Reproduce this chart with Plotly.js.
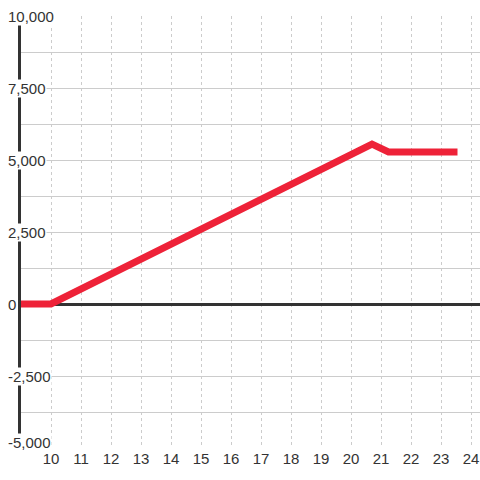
<!DOCTYPE html>
<html>
<head>
<meta charset="utf-8">
<script src="https://cdn.plot.ly/plotly-3.0.1.min.js"></script>
<style>html,body{margin:0;padding:0;background:#fff;}#chart{width:480px;height:480px;}</style>
</head>
<body>
<div id="chart"></div>
<script>
// Data
const xValues = [9, 10, 20.7, 21.25, 23.55];
const yValues = [0, 0, 5550, 5280, 5280];
const xTickVals = [10, 11, 12, 13, 14, 15, 16, 17, 18, 19, 20, 21, 22, 23, 24];
const xTickText = ['10', '11', '12', '13', '14', '15', '16', '17', '18', '19', '20', '21', '22', '23', '24'];
const yTickVals = [10000, 7500, 5000, 2500, 0, -2500, -5000];
const yTickText = ['10,000', '7,500', '5,000', '2,500', '0', '-2,500', '-5,000'];

const textColor = '#333333';
const fontFamily = '"Liberation Sans", Arial, sans-serif';
const fontSize = 15;

const trace = {
  x: xValues,
  y: yValues,
  type: 'scatter',
  mode: 'lines',
  line: {color: '#ee2238', width: 7},
  hoverinfo: 'skip'
};

const annotations = yTickVals.map((v, i) => ({
  xref: 'paper', yref: 'y',
  x: 0, y: v,
  xshift: -14,
  yshift: (i === yTickVals.length - 1) ? 6 : 0,
  xanchor: 'left', yanchor: 'middle',
  text: yTickText[i],
  showarrow: false,
  bgcolor: '#ffffff',
  borderpad: 0,
  font: {family: fontFamily, size: fontSize, color: textColor}
}));

const layout = {
  width: 480, height: 480,
  margin: {l: 21, r: 0, t: 16, b: 32},
  paper_bgcolor: '#ffffff',
  plot_bgcolor: '#ffffff',
  showlegend: false,
  font: {family: fontFamily, size: fontSize, color: textColor},
  xaxis: {
    range: [9, 24.3],
    tickvals: xTickVals,
    ticktext: xTickText,
    ticks: '',
    showgrid: true,
    gridcolor: '#cccccc',
    gridwidth: 1,
    griddash: '3px,3px',
    zeroline: false,
    showline: false,
    tickfont: {family: fontFamily, size: fontSize, color: textColor},
    fixedrange: true
  },
  yaxis: {
    range: [-5000, 10000],
    dtick: 1250,
    tick0: 0,
    showticklabels: false,
    ticks: '',
    showgrid: true,
    gridcolor: '#cccccc',
    gridwidth: 1,
    zeroline: true,
    zerolinecolor: '#333333',
    zerolinewidth: 3,
    showline: true,
    linecolor: '#333333',
    linewidth: 3,
    fixedrange: true
  },
  annotations: annotations
};

Plotly.newPlot('chart', [trace], layout, {displayModeBar: false, staticPlot: true});
</script>
</body>
</html>
